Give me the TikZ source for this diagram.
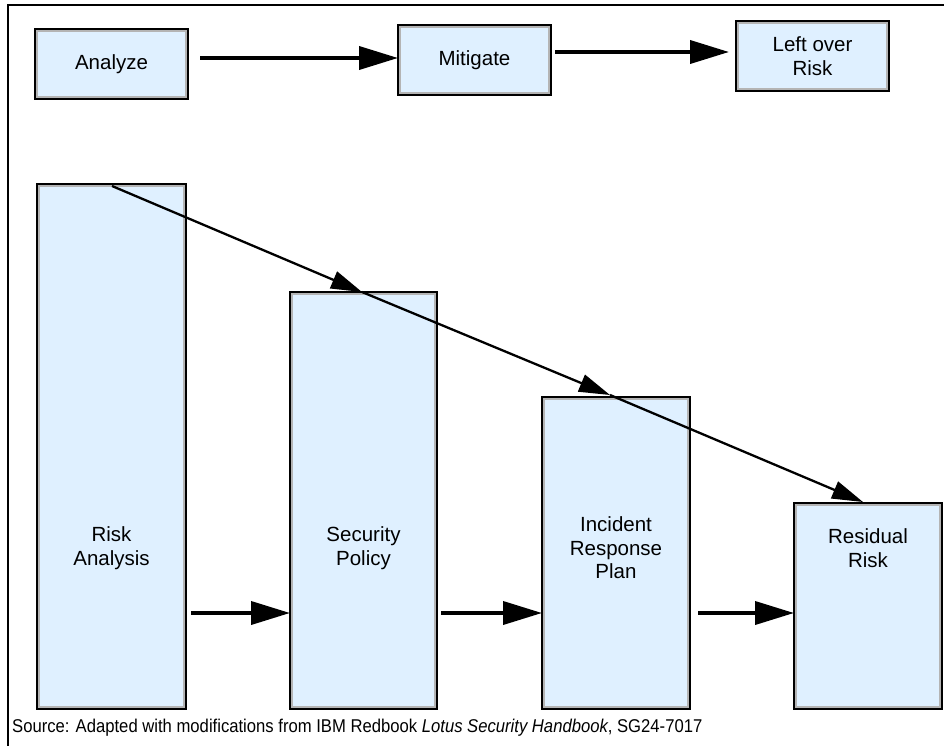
\documentclass[tikz,border=0pt]{standalone}
\usepackage{fontspec}
\setmainfont{Liberation Sans}
\usetikzlibrary{arrows.meta,calc}
\definecolor{boxfill}{HTML}{DFF0FF}
\definecolor{boxinner}{HTML}{B4B4B4}
\tikzset{
  stepbox/.style={draw=black, line width=2pt, fill=boxfill, rectangle, inner sep=0pt, outer sep=0pt,
    anchor=north west,
    path picture={\draw[boxinner, line width=6pt] (path picture bounding box.south west) rectangle (path picture bounding box.north east);}},
  lbl/.style={font=\fontsize{20.5}{23.5}\selectfont, align=center, inner sep=0pt},
  thickarrow/.style={line width=3.8pt, -{Triangle[length=39pt,width=23pt]}},
  diagarrow/.style={line width=2.3pt, -{Triangle[length=31pt,width=18pt]}},
}
\begin{document}
\begin{tikzpicture}[x=1pt,y=-1pt]
\useasboundingbox (0,0) rectangle (944,746);
% frame
\draw[line width=1.5pt] (8,746) -- (8,5) -- (944,5);
% top row
\node[stepbox, minimum width=153pt, minimum height=70pt] (an) at (35,29) {};
\node[lbl] (anT) at (an.center) {Analyze};
\node[stepbox, minimum width=153pt, minimum height=70pt] (mi) at (398,25) {};
\node[lbl] (miT) at (mi.center) {Mitigate};
\node[stepbox, minimum width=153pt, minimum height=70pt] (lo) at (736,21) {};
\node[lbl] (loT) at (lo.center) {Left over\\Risk};
\draw[thickarrow] ([xshift=12pt,yshift=6pt]an.east) -- ([yshift=2pt]mi.west);
\draw[thickarrow] ([xshift=4pt,yshift=8pt]mi.east) -- ([xshift=-7pt,yshift=4pt]lo.west);
% bottom row
\node[stepbox, minimum width=149pt, minimum height=525pt] (ra) at (37,184) {};
\node[stepbox, minimum width=147pt, minimum height=417pt] (sp) at (290,292) {};
\node[stepbox, minimum width=148pt, minimum height=312pt] (ir) at (542,397) {};
\node[stepbox, minimum width=148pt, minimum height=206pt] (rr) at (794,503) {};
\node[lbl] (raT) at (ra.center |- 0,548) {Risk\\Analysis};
\node[lbl] (spT) at (sp.center |- 0,548) {Security\\Policy};
\node[lbl] (irT) at (ir.center |- 0,548) {Incident\\Response\\Plan};
\node[lbl] (rrT) at (rr.center |- 0,548) {Residual\\Risk};
\coordinate (ra1) at ($(ra.east)+(5,0)$);
\coordinate (sp1) at ($(sp.east)+(4,0)$);
\coordinate (ir1) at ($(ir.east)+(8,0)$);
\draw[thickarrow] (ra1 |- 0,613) -- (sp.west |- 0,613);
\draw[thickarrow] (sp1 |- 0,613) -- (ir.west |- 0,613);
\draw[thickarrow] (ir1 |- 0,613) -- (rr.west |- 0,613);
% diagonal
\coordinate (d0) at ($(ra.north west)+(75,2)$);
\coordinate (d1) at ($(sp.north west)+(72,0)$);
\coordinate (d2) at ($(ir.north west)+(68,-2)$);
\coordinate (d3) at ($(rr.north west)+(69,-1)$);
\draw[diagarrow] (d0) -- (d1);
\draw[diagarrow] (d1) -- (d2);
\draw[diagarrow] (d2) -- (d3);
% footer
\node[anchor=west, inner sep=0pt, font=\fontsize{18.5}{21}\selectfont] (src) at (12,728)
  {\scalebox{0.9}[1]{Source: Adapted with modifications from IBM Redbook \textit{Lotus Security Handbook}, SG24-7017}};
\end{tikzpicture}
\end{document}
